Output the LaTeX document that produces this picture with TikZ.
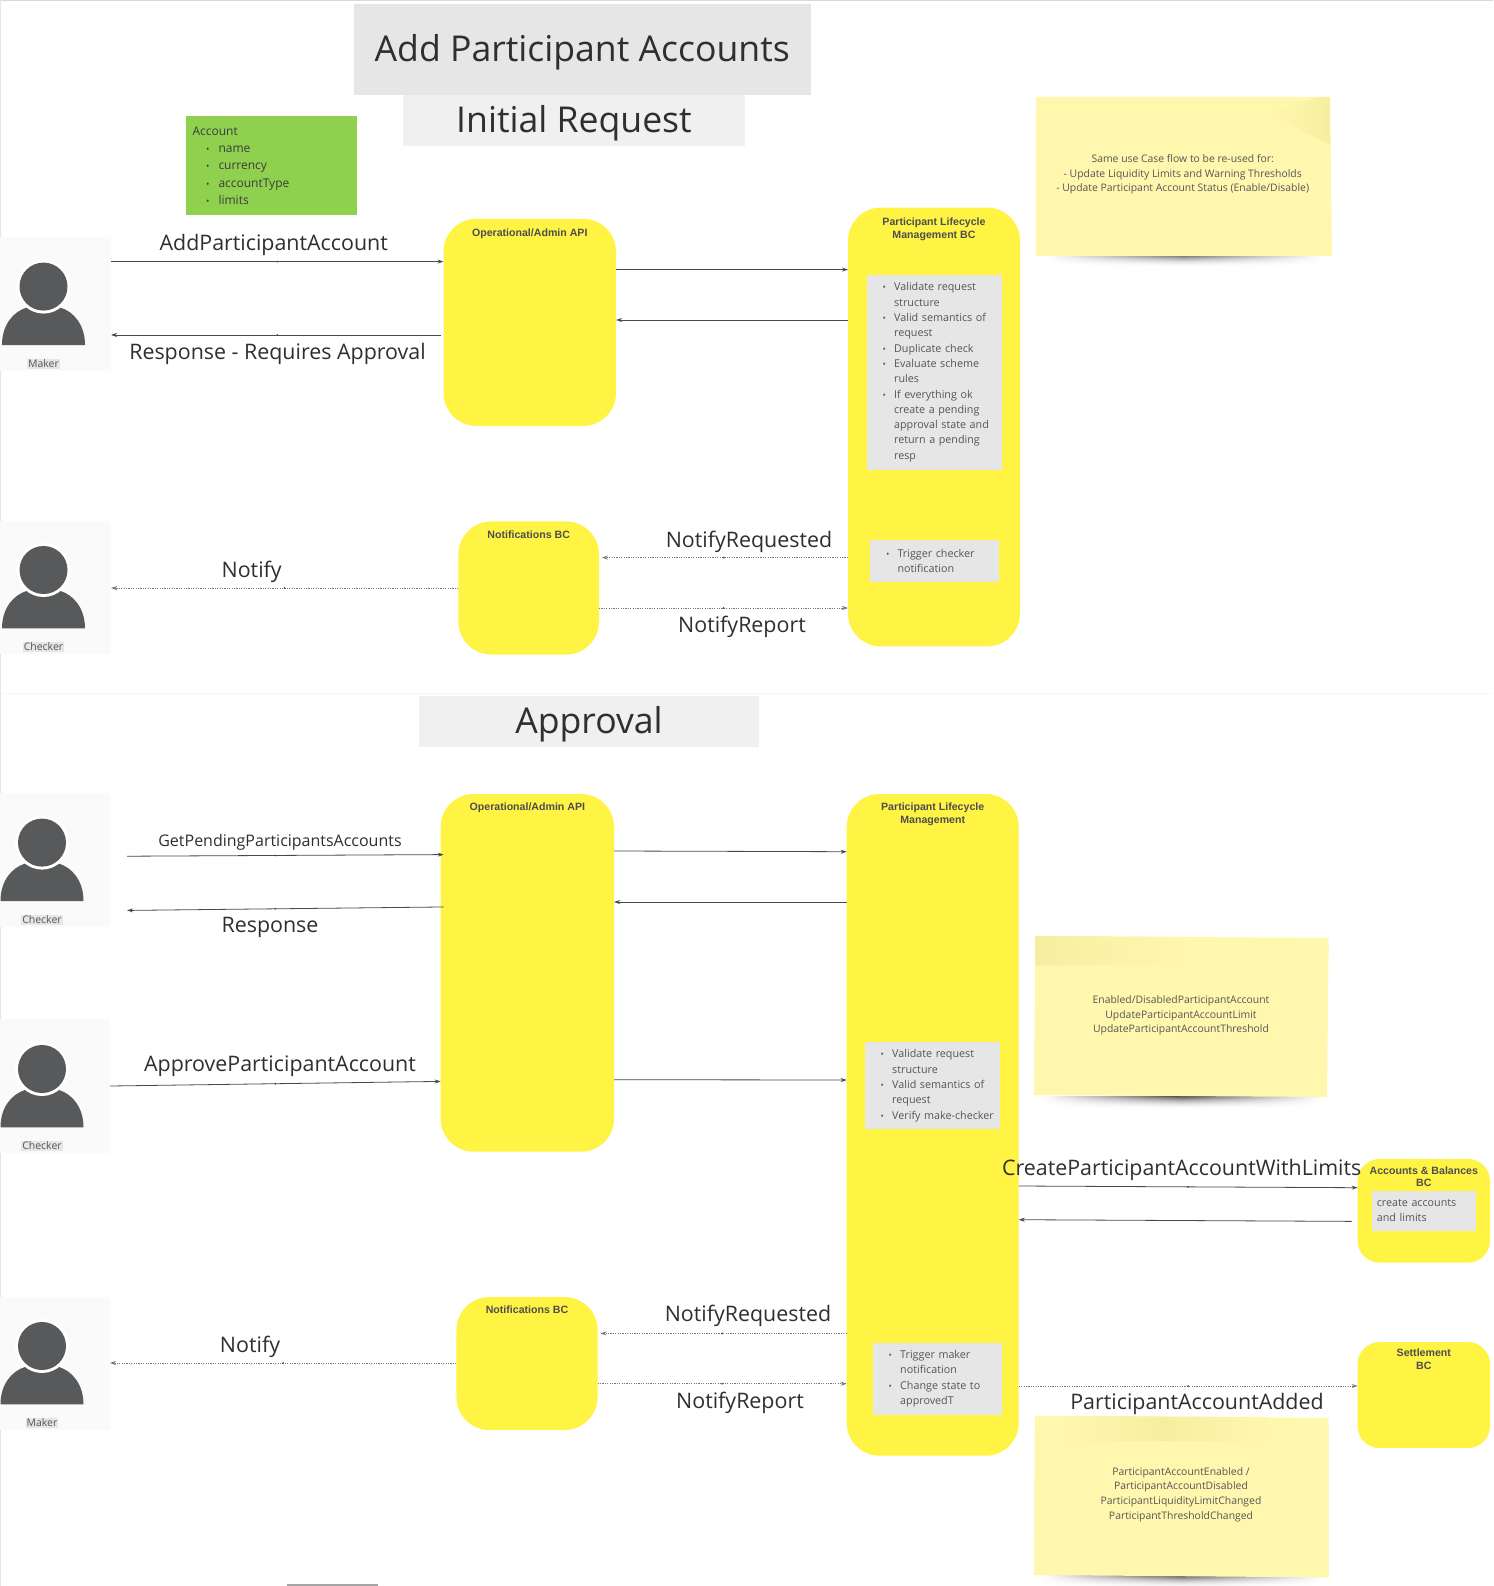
\documentclass[tikz,border=0pt]{standalone}
\usepackage{fontspec}
\setmainfont{Open Sans}
\newfontfamily\bcfont{Liberation Sans}
\usetikzlibrary{arrows.meta,decorations.markings}
\definecolor{boxyellow}{HTML}{FFF344}
\definecolor{boxgrey}{HTML}{E6E6E6}
\definecolor{lightgrey}{HTML}{F0F0F0}
\definecolor{panelgrey}{HTML}{FAFAFA}
\definecolor{boxgreen}{HTML}{8FD14F}
\definecolor{noteyellow}{HTML}{FFF7AE}
\definecolor{notedark}{HTML}{F6EE9F}
\definecolor{figuregrey}{HTML}{58595A}
\definecolor{inktext}{HTML}{2F2F2F}
\definecolor{softtext}{HTML}{555555}
\definecolor{linegrey}{HTML}{4A4A4A}
\newcommand{\blt}{\makebox[11.5pt][l]{\fontsize{9}{9}\selectfont •}}
\newcommand{\itm}{\hspace*{16.pt}\blt}
\newcommand{\cnt}{\hspace*{27.5pt}}
\newcommand{\personicon}[4]{
	\fill [figuregrey,shift={(#2,#3)}] (-41.5,58.4) .. controls (-41.5,38.) and (-30.,25.) .. (-17.,21.) -- (17.,21.) .. controls (30.,25.) and (41.5,38.) .. (41.5,58.4) -- cycle;
	\fill [white] (#2,#3) circle (27.pt);
	\fill [figuregrey] (#2,#3) circle (24.pt);
	\node [personlabel] (#1) at (#2,#3+77.) {#4};
}
\newcommand{\noteshadow}[3]{
	\foreach \i in {0,...,12}{
		\pgfmathsetmacro{\tone}{70*(1-\i/13)^2}
		\shade [left color=white,right color=white,middle color=black!\tone] (#1,#3+\i) rectangle (#2,#3+\i+1.4);
	}
}
\tikzset{
	titlebox/.style={fill=boxgrey,inner sep=0pt,outer sep=0pt,text=inktext,text height=33.,text depth=8.4,font=\fontsize{35.6}{35.6}\selectfont},
	headbox/.style={fill=lightgrey,inner sep=0pt,outer sep=0pt,text=inktext,text height=33.,text depth=8.4,font=\fontsize{35.6}{35.6}\selectfont},
	panel/.style={fill=panelgrey,inner sep=0pt,outer sep=0pt},
	yellowbox/.style={fill=boxyellow,inner sep=0pt,outer sep=0pt,rounded corners=33pt},
	smallyellow/.style={fill=boxyellow,inner sep=0pt,outer sep=0pt,rounded corners=22pt},
	bclabel/.style={inner sep=0pt,yshift=-1.2pt,align=center,text=inktext!85,font=\bcfont\bfseries\fontsize{10.6}{12.2}\selectfont},
	greybox/.style={fill=boxgrey,inner sep=0pt,outer sep=0pt,align=left,text=softtext,font=\fontsize{10.75}{15.3}\selectfont},
	personlabel/.style={fill=boxgrey,inner sep=1pt,text=softtext,font=\fontsize{10.5}{10.5}\selectfont},
	arrowlabel/.style={inner sep=0pt,yshift=-2.5pt,text=inktext,font=\fontsize{21.4}{21.4}\selectfont},
	notetext/.style={inner sep=0pt,yshift=-2pt,align=center,text=softtext,font=\fontsize{10.4}{14.6}\selectfont},
	flow/.style={draw=linegrey,line width=.8pt,-{Stealth[length=6pt,width=4pt]},postaction={decorate},decoration={markings,mark=at position .5 with {\fill [linegrey] circle (1.pt);}}},
	flowdot/.style={flow,draw=linegrey!75,dash pattern=on 1.2pt off 1.2pt},
	flowplain/.style={draw=linegrey,line width=.8pt,-{Stealth[length=6pt,width=4pt]}}
}
\begin{document}
\begin{tikzpicture}[x=1pt,y=-1pt]
	\useasboundingbox [fill=white] (0.,0.) rectangle (1493.,1586.);
	\draw [color=black!15,line width=1.pt] (0.,.5)-- (1493.,.5);
	\draw [color=black!10,line width=1.pt] (.5,0.)-- (.5,1586.);
	\draw [color=black!4,line width=1.pt] (0.,693.5)-- (1493.,693.5);
	\draw [color=black!35,line width=2.pt] (287.,1585.)-- (378.,1585.);

	\node [titlebox,minimum width=457.5,minimum height=90.1] (title) at (582.25,49.55) {Add Participant Accounts};
	\node [headbox,minimum width=342.,minimum height=51.] (initialhead) at (574.,120.5) {Initial Request};
	\node [headbox,minimum width=340.8,minimum height=51.] (approvalhead) at (589.,721.) {Approval};
	\node [fill=boxgreen,inner sep=0pt,outer sep=0pt,text width=171.4,minimum height=99.,align=left,text=softtext!70!black,font=\fontsize{12}{17.3}\selectfont] (account) at (271.7,165.5) {\hspace*{6.5pt}Account\\\hspace*{20.pt}\makebox[12.5pt][l]{\fontsize{9}{9}\selectfont •}name\\\hspace*{20.pt}\makebox[12.5pt][l]{\fontsize{9}{9}\selectfont •}currency\\\hspace*{20.pt}\makebox[12.5pt][l]{\fontsize{9}{9}\selectfont •}accountType\\\hspace*{20.pt}\makebox[12.5pt][l]{\fontsize{9}{9}\selectfont •}limits};

	\node [panel,minimum width=111.,minimum height=133.5] (makerA) at (55.5,304.25) {};
	\node [panel,minimum width=111.,minimum height=133.] (checkerA) at (55.5,587.5) {};
	\node [panel,minimum width=110.,minimum height=134.] (checkerB) at (55.,860.) {};
	\node [panel,minimum width=110.,minimum height=134.4] (checkerC) at (55.,1085.8) {};
	\node [panel,minimum width=110.,minimum height=133.] (makerB) at (55.,1363.5) {};
	\personicon{makerAlabel}{43.5}{286.6}{Maker}
	\personicon{checkerAlabel}{43.5}{570.}{Checker}
	\personicon{checkerBlabel}{42.}{842.6}{Checker}
	\personicon{checkerClabel}{42.}{1069.}{Checker}
	\personicon{makerBlabel}{42.}{1346.}{Maker}

	\node [yellowbox,minimum width=172.5,minimum height=207.2] (apiA) at (529.75,322.4) {};
	\node [yellowbox,minimum width=172.,minimum height=438.8] (lifecycleA) at (934.,427.) {};
	\node [yellowbox,minimum width=140.6,minimum height=133.1] (notifA) at (528.7,588.) {};
	\node [yellowbox,minimum width=173.3,minimum height=357.7] (apiB) at (527.35,972.85) {};
	\node [yellowbox,minimum width=172.,minimum height=661.7] (lifecycleB) at (932.7,1124.85) {};
	\node [yellowbox,minimum width=141.1,minimum height=133.] (notifB) at (527.,1363.5) {};
	\node [smallyellow,minimum width=132.4,minimum height=103.6] (balances) at (1423.8,1210.8) {};
	\node [smallyellow,minimum width=132.4,minimum height=106.] (settlement) at (1423.8,1395.) {};

	\node [bclabel] (apiAlabel) at (529.75,232.6) {Operational/Admin API};
	\node [bclabel] (lifecycleAlabel) at (934.,228.) {Participant Lifecycle\\Management BC};
	\node [bclabel] (notifAlabel) at (528.7,534.) {Notifications BC};
	\node [bclabel] (apiBlabel) at (527.35,807.) {Operational/Admin API};
	\node [bclabel] (lifecycleBlabel) at (932.7,813.) {Participant Lifecycle\\Management};
	\node [bclabel] (notifBlabel) at (527.,1308.) {Notifications BC};
	\node [bclabel] (balanceslabel) at (1423.8,1175.4) {Accounts \& Balances\\BC};
	\node [bclabel] (settlementlabel) at (1423.8,1358.) {Settlement\\BC};

	\node [greybox,text width=135.4,minimum height=194.6] (checksA) at (934.3,372.3) {\itm Validate request\\\cnt structure\\\itm Valid semantics of\\\cnt request\\\itm Duplicate check\\\itm Evaluate scheme\\\cnt rules\\\itm If everything ok\\\cnt create a pending\\\cnt approval state and\\\cnt return a pending\\\cnt resp};
	\node [greybox,text width=129.,minimum height=41.7] (triggerA) at (934.5,560.85) {\itm Trigger checker\\\cnt notification};
	\node [greybox,text width=135.3,minimum height=87.4] (checksB) at (932.35,1085.7) {\itm Validate request\\\cnt structure\\\itm Valid semantics of\\\cnt request\\\itm Verify make-checker};
	\node [greybox,text width=129.,minimum height=72.] (triggerB) at (937.2,1378.6) {\itm Trigger maker\\\cnt notification\\\itm Change state to\\\cnt approvedT};
	\node [greybox,text width=103.8,minimum height=40.4] (balancesinner) at (1423.7,1210.8) {\hspace*{5.pt}create accounts\\\hspace*{5.pt}and limits};

	\noteshadow{1046.}{1322.}{255.}
	\noteshadow{1042.}{1322.}{1096.}
	\noteshadow{1042.}{1322.}{1575.}
	\fill [noteyellow] (1035.8,97.)-- (1330.,97.)-- (1332.,256.)-- (1035.8,256.)-- cycle;
	\shade [left color=noteyellow,right color=notedark] (1271.,111.)-- (1319.,97.)-- (1330.,97.)-- (1330.,145.)-- (1295.,127.)-- cycle;
	\fill [noteyellow] (1035.3,936.)-- (1328.7,938.)-- (1327.,1097.)-- (1034.,1095.)-- cycle;
	\shade [left color=notedark,right color=noteyellow] (1035.3,936.)-- (1190.,937.)-- (1190.,965.)-- (1035.,965.)-- cycle;
	\fill [noteyellow] (1034.8,1415.7)-- (1328.7,1418.)-- (1328.7,1577.4)-- (1034.,1575.)-- cycle;
	\shade [left color=noteyellow,right color=noteyellow,middle color=notedark] (1060.,1416.)-- (1270.,1417.)-- (1270.,1441.)-- (1060.,1441.)-- cycle;
	\node [notetext] (noteA) at (1182.7,172.4) {Same use Case flow to be re-used for:\\- Update Liquidity Limits and Warning Thresholds\\- Update Participant Account Status (Enable/Disable)};
	\node [notetext] (noteB) at (1181.,1013.5) {Enabled/DisabledParticipantAccount\\UpdateParticipantAccountLimit\\UpdateParticipantAccountThreshold};
	\node [notetext] (noteC) at (1181.,1492.5) {ParticipantAccountEnabled /\\ParticipantAccountDisabled\\ParticipantLiquidityLimitChanged\\ParticipantThresholdChanged};

	\draw [flow] (makerA.east |- 0,261.6)-- (apiA.west |- 0,261.6);
	\draw [flow,shorten <=3pt] (apiA.west |- 0,335.)-- (makerA.east |- 0,335.);
	\draw [flowplain] (apiA.east |- 0,269.6)-- (lifecycleA.west |- 0,269.6);
	\draw [flowplain] (lifecycleA.west |- 0,320.)-- (apiA.east |- 0,320.);
	\draw [flowdot,shorten >=3pt] (lifecycleA.west |- 0,557.6)-- (notifA.east |- 0,557.6);
	\draw [flowdot] (notifA.east |- 0,608.)-- (lifecycleA.west |- 0,608.);
	\draw [flowdot] (notifA.west |- 0,588.)-- (checkerA.east |- 0,588.);

	\draw [flow,shorten <=17pt,shorten >=-3pt] (checkerB.east |- 0,856.3)-- (apiB.west |- 0,854.6);
	\draw [flow,shorten <=-3pt,shorten >=17pt] (apiB.west |- 0,907.)-- (checkerB.east |- 0,910.6);
	\draw [flow] (checkerC.east |- 0,1086.)-- (apiB.west |- 0,1081.4);
	\draw [flowplain] (apiB.east |- 0,851.)-- (lifecycleB.west |- 0,851.7);
	\draw [flowplain] (lifecycleB.west |- 0,902.)-- (apiB.east |- 0,902.);
	\draw [flowplain] (apiB.east |- 0,1079.7)-- (lifecycleB.west |- 0,1080.);
	\draw [flowdot] (notifB.west |- 0,1363.)-- (makerB.east |- 0,1363.);
	\draw [flowdot,shorten >=3pt] (lifecycleB.west |- 0,1333.4)-- (notifB.east |- 0,1333.4);
	\draw [flowdot] (notifB.east |- 0,1383.7)-- (lifecycleB.west |- 0,1383.7);
	\draw [flow] (lifecycleB.east |- 0,1186.)-- (balances.west |- 0,1187.7);
	\draw [flowplain,shorten <=6pt] (balances.west |- 0,1221.4)-- (lifecycleB.east |- 0,1219.7);
	\draw [flowdot] (lifecycleB.east |- 0,1386.)-- (settlement.west |- 0,1386.);

	\node [arrowlabel] (addlabel) at (273.7,242.) {AddParticipantAccount};
	\node [arrowlabel] (responseAlabel) at (277.5,351.) {Response - Requires Approval};
	\node [arrowlabel] (notifyAlabel) at (251.7,569.) {Notify};
	\node [arrowlabel] (requestedAlabel) at (749.,539.5) {NotifyRequested};
	\node [arrowlabel] (reportAlabel) at (742.,624.5) {NotifyReport};
	\node [arrowlabel,font=\fontsize{16.}{16.}\selectfont] (pendinglabel) at (280.,839.7) {GetPendingParticipantsAccounts};
	\node [arrowlabel] (responseBlabel) at (270.,925.) {Response};
	\node [arrowlabel] (approvelabel) at (280.,1064.) {ApproveParticipantAccount};
	\node [arrowlabel] (notifyBlabel) at (250.,1344.) {Notify};
	\node [arrowlabel] (requestedBlabel) at (748.,1313.6) {NotifyRequested};
	\node [arrowlabel] (reportBlabel) at (740.,1400.6) {NotifyReport};
	\node [arrowlabel] (createlabel) at (1181.7,1167.) {CreateParticipantAccountWithLimits};
	\node [arrowlabel] (addedlabel) at (1197.,1401.4) {ParticipantAccountAdded};
\end{tikzpicture}
\end{document}
